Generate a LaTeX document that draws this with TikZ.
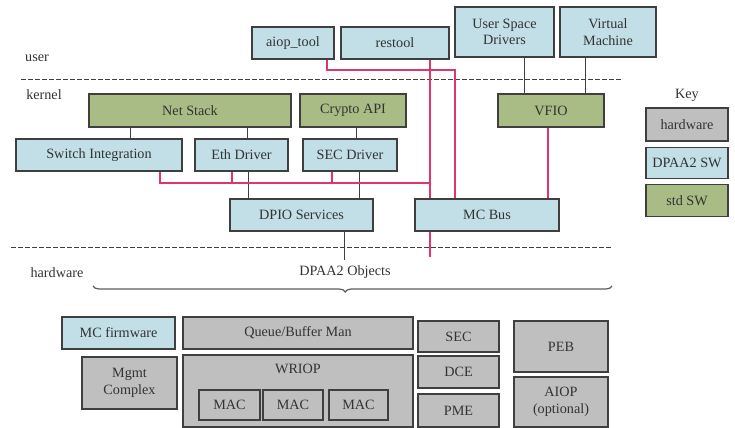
\documentclass[tikz,border=0pt]{standalone}
\usepackage{fontspec}
\setmainfont{Liberation Serif}
\newfontfamily\diagfont{Liberation Serif}
\usetikzlibrary{decorations.pathreplacing,positioning}
\definecolor{dpaablue}{HTML}{C2DEE6}
\definecolor{stdgreen}{HTML}{A9BC85}
\definecolor{hwgray}{HTML}{BFBFBF}
\definecolor{edgegray}{HTML}{3F3F3F}
\definecolor{mclink}{HTML}{E0356A}

\begin{document}
\begin{tikzpicture}[
  x=.5pt,y=-.5pt,
  every node/.style={font=\diagfont\fontsize{7.1}{8.2}\selectfont,text=black!80},
  unit/.style={draw=edgegray,line width=.6pt,inner sep=0pt,align=center,
    minimum height=16pt},
  hwunit/.style={unit,fill=hwgray},
  swunit/.style={unit,fill=dpaablue},
  stdunit/.style={unit,fill=stdgreen},
  wire/.style={edgegray,line width=.5pt},
  mcwire/.style={mclink,line width=.6pt},
  layer/.style={edgegray,line width=.4pt,dash pattern=on 2.5pt off 1pt}
]
  \useasboundingbox (0,0) rectangle (735,428);
  % user space
  \node[swunit,minimum width=41pt] (aiop) at (293,43) {aiop\_tool};
  \node[swunit,minimum width=54pt] (restool) at (395,43) {restool};
  \node[swunit,minimum width=49.5pt,minimum height=25pt] (usd) at (504.5,32) {User Space\\Drivers};
  \node[swunit,minimum width=48pt,minimum height=25pt] (vm) at (608,32) {Virtual\\Machine};
  \node (userlbl) at (37,58) {user};
  \draw[layer] (21,79) -- (622,79);
  % kernel
  \node (kernellbl) at (44,95) {kernel};
  \node[stdunit,minimum width=101pt,minimum height=16.5pt] (netstack) at (190,110.5) {Net Stack};
  \node[stdunit,minimum width=53pt,minimum height=16.5pt] (crypto) at (353,110.5) {Crypto API};
  \node[stdunit,minimum width=53pt,minimum height=16.5pt] (vfio) at (551,110.5) {VFIO};
  \node[swunit,minimum width=83pt] (switch) at (99,155) {Switch Integration};
  \node[swunit,minimum width=46.5pt] (eth) at (241.5,155) {Eth Driver};
  \node[swunit,minimum width=47pt] (secdrv) at (350,155) {SEC Driver};
  \node[swunit,minimum width=71.5pt] (dpio) at (301.5,215) {DPIO Services};
  \node[swunit,minimum width=72pt] (mcbus) at (487,215) {MC Bus};
  \coordinate (drvbus) at (0,183);
  \coordinate (aiopturn) at (455,70);
  \coordinate (mcend) at (430,257);
  \coordinate (dpioend) at (344,260);

  \draw[wire] ([xshift=15.5pt]switch.north) coordinate (w1) -- (w1 |- netstack.south);
  \draw[wire] ([xshift=2.75pt]eth.north) coordinate (w2) -- (w2 |- netstack.south);
  \draw[wire] ([xshift=3pt]secdrv.north) coordinate (w3) -- (w3 |- crypto.south);
  \draw[wire] ([xshift=3.25pt]eth.south) coordinate (w4) -- (w4 |- dpio.north);
  \draw[wire] ([xshift=4.5pt]secdrv.south) coordinate (w5) -- (w5 |- dpio.north);
  \draw[wire] ([xshift=21.25pt]dpio.south) -- (dpioend);
  \draw[wire] ([xshift=9.75pt]usd.south) coordinate (w6) -- (w6 |- vfio.north);
  \draw[wire] ([xshift=-11.5pt]vm.south) coordinate (w7) -- (w7 |- vfio.north);

  \draw[mcwire] ([xshift=17pt]aiop.south) |- (aiopturn) -- (aiopturn |- mcbus.north);
  \draw[mcwire] ([xshift=17.5pt]restool.south) coordinate (rt) -- (rt |- mcbus.north);
  \draw[mcwire] (rt |- mcbus.south) -- (mcend);
  \draw[mcwire] ([xshift=30.5pt]switch.south) |- (rt |- drvbus);
  \draw[mcwire] ([xshift=-4.75pt]eth.south) coordinate (r1) -- (r1 |- drvbus);
  \draw[mcwire] ([xshift=-9pt]secdrv.south) coordinate (r2) -- (r2 |- drvbus);
  \draw[mcwire] ([xshift=-1.5pt]vfio.south) coordinate (r3) -- (r3 |- mcbus.north);
  \draw[layer] (11,247) -- (612,247);
  % hardware
  \node (hwlbl) at (57,273) {hardware};
  \node (objlbl) at (345,272) {DPAA2 Objects};
  \draw[edgegray!85,line width=.6pt,decorate,
    decoration={brace,mirror,amplitude=3pt,aspect=.486}] (93,286) -- (612,286);
  \node[swunit,minimum width=56.5pt] (mcfw) at (118.5,333) {MC firmware};
  \node[hwunit,minimum width=115pt] (qbman) at (298,333) {Queue/Buffer Man};
  \node[hwunit,minimum width=47.5pt,minimum height=26pt] (mgmt) at (129.5,383) {Mgmt\\Complex};
  \node[hwunit,minimum width=115pt,minimum height=36pt,
    label={[anchor=north,inner sep=0pt,yshift=-4.5pt]north:WRIOP}] (wriop) at (298,391) {};
  \node[hwunit,minimum width=30.5pt,minimum height=15pt] (mac1) at (229.5,405) {MAC};
  \node[hwunit,minimum width=30pt,minimum height=15pt] (mac2) at (293,405) {MAC};
  \node[hwunit,minimum width=29.5pt,minimum height=15pt] (mac3) at (358.5,405) {MAC};
  \node[hwunit,minimum width=40.5pt,minimum height=15.5pt] (sec) at (458.5,336.5) {SEC};
  \node[hwunit,minimum width=40.5pt,minimum height=16pt] (dce) at (458.5,372) {DCE};
  \node[hwunit,minimum width=40.5pt,minimum height=16.5pt] (pme) at (458.5,410.5) {PME};
  \node[hwunit,minimum width=47pt,minimum height=25.5pt] (peb) at (561,346.5) {PEB};
  \node[hwunit,minimum width=47pt,minimum height=25pt] (aiophw) at (561,402) {AIOP\\(optional)};
  % key
  \node (keylbl) at (687,95) {Key};
  \node[hwunit,minimum width=41pt,minimum height=16.5pt] (hwkey) at (687,124.5) {hardware};
  \node[swunit,minimum width=41pt,minimum height=15.5pt,below=2.5pt of hwkey] (swkey) {DPAA2 SW};
  \node[stdunit,minimum width=41pt,minimum height=16pt,below=2.5pt of swkey] (stdkey) {std SW};
\end{tikzpicture}
\end{document}
